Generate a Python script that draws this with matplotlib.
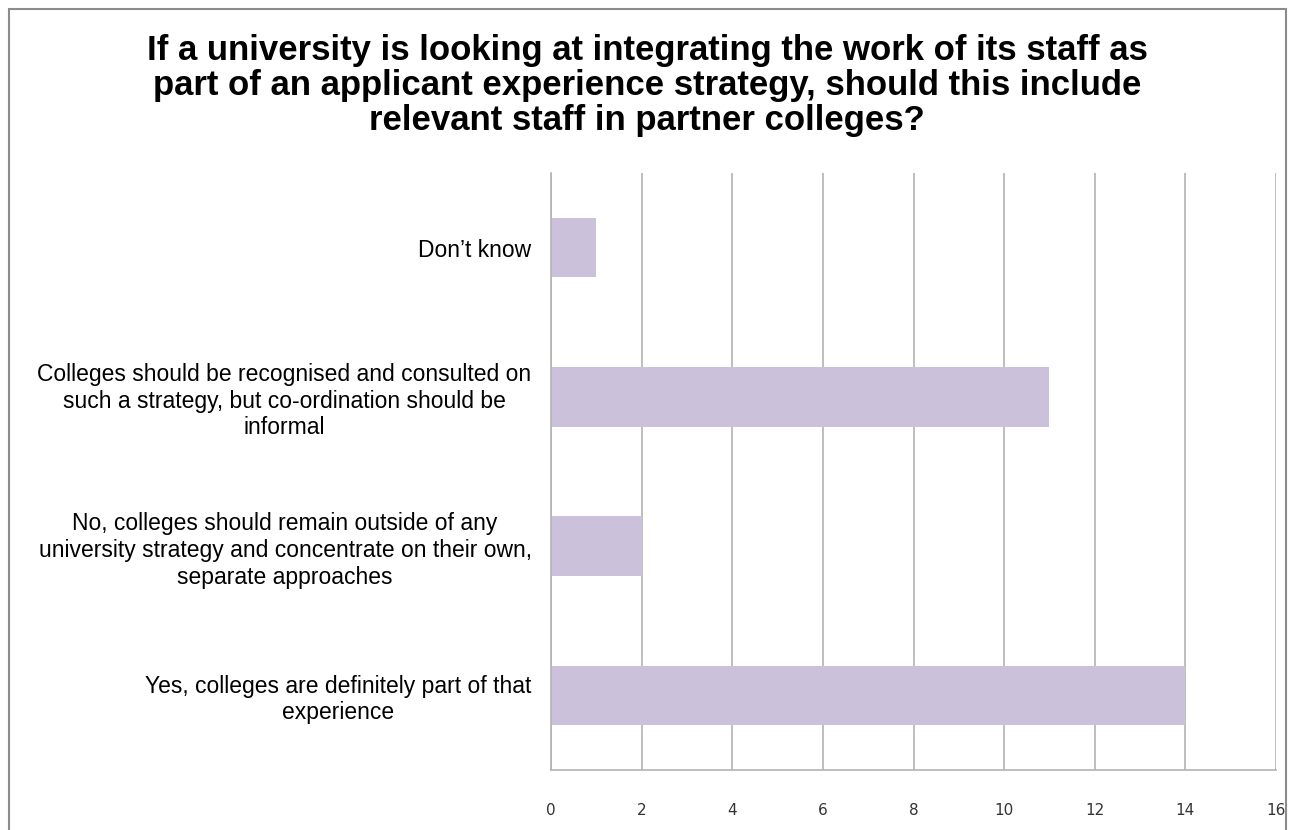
import matplotlib.pyplot as plt
from matplotlib.patches import Rectangle

categories = [
    "Yes, colleges are definitely part of that\nexperience",
    "No, colleges should remain outside of any\nuniversity strategy and concentrate on their own,\nseparate approaches",
    "Colleges should be recognised and consulted on\nsuch a strategy, but co-ordination should be\ninformal",
    "Don\u2019t know",
]
values = [14, 2, 11, 1]
x_ticks = [0, 2, 4, 6, 8, 10, 12, 14, 16]

title = ("If a university is looking at integrating the work of its staff as\n"
         "part of an applicant experience strategy, should this include\n"
         "relevant staff in partner colleges?")

plt.rcParams['font.family'] = ['Liberation Sans', 'DejaVu Sans']

fig = plt.figure(figsize=(12.94, 8.3), dpi=100)
ax = fig.add_axes([551 / 1294, 1 - 770 / 830, 725 / 1294, 597 / 830])

ax.barh(range(len(values)), values, height=0.4, color='#ccc1da', zorder=2)

ax.set_xlim(0, 16)
ax.set_ylim(-0.5, 3.5)
ax.set_xticks(x_ticks)
ax.set_xticklabels([str(t) for t in x_ticks], fontsize=11, family='DejaVu Sans', color='#333333')
ax.set_yticks(range(len(categories)))
ax.set_yticklabels(categories, fontsize=16.5)
for lbl in ax.get_yticklabels():
    lbl.set_multialignment('center')
    lbl.set_linespacing(1.2)

ax.tick_params(axis='both', length=0)
ax.tick_params(axis='x', pad=24)
ax.tick_params(axis='y', pad=14)

ax.grid(axis='x', color='#b3b3b3', linewidth=1.2, zorder=0)
for side in ['top', 'right']:
    ax.spines[side].set_visible(False)
ax.spines['left'].set_color('#b3b3b3')
ax.spines['bottom'].set_color('#b3b3b3')
ax.spines['left'].set_linewidth(1.2)
ax.spines['bottom'].set_linewidth(1.2)

fig.text(0.5, 1 - 34 / 830, title, ha='center', va='top',
         fontsize=25, fontweight='bold', linespacing=1.07)

# outer frame
fig.patches.append(Rectangle((9 / 1294, -0.01), 1277 / 1294, 1 - 9 / 830 + 0.01,
                             transform=fig.transFigure, fill=False,
                             edgecolor='#8c8c8c', linewidth=1.5))

fig.savefig("out.png", dpi=100)
